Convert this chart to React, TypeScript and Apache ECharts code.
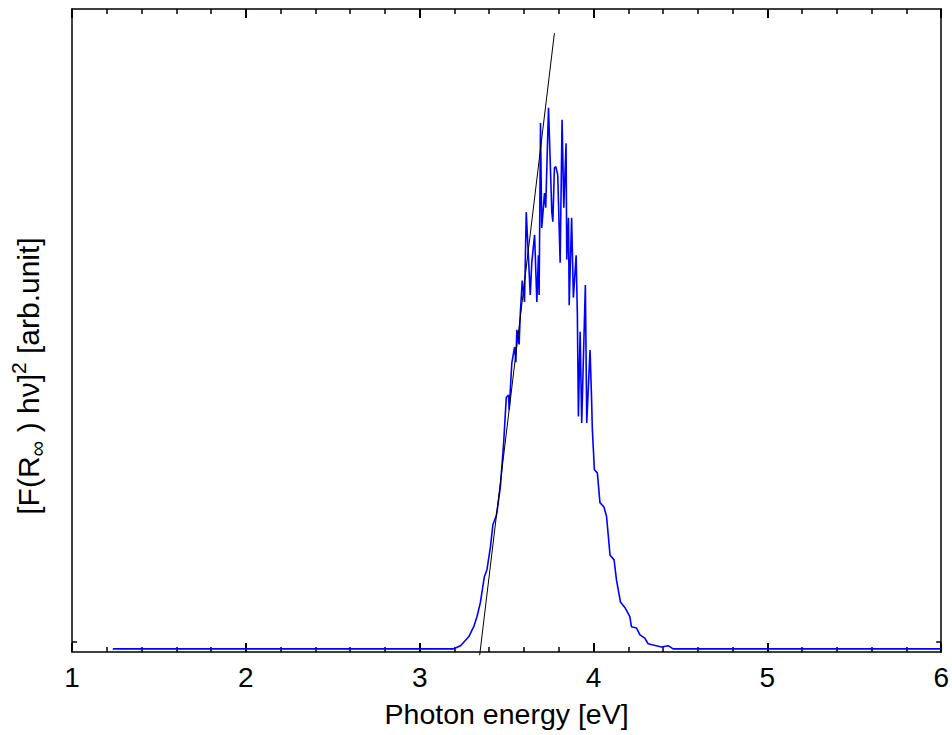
import React, { useEffect, useRef } from "react";
import * as echarts from "echarts";

// Photon energy [eV]
const energy = [
  1.235, 3.196, 3.235, 3.282, 3.311, 3.33, 3.349, 3.372, 3.387, 3.407, 3.421, 3.439, 3.444,
  3.464, 3.483, 3.498, 3.511, 3.515, 3.53, 3.546, 3.553, 3.559, 3.572, 3.579, 3.59, 3.603,
  3.613, 3.636, 3.645, 3.661, 3.674, 3.683, 3.687, 3.695, 3.702, 3.718, 3.725, 3.741, 3.751,
  3.76, 3.766, 3.775, 3.783, 3.794, 3.808, 3.819, 3.829, 3.842, 3.846, 3.856, 3.86, 3.874,
  3.884, 3.9, 3.907, 3.913, 3.923, 3.932, 3.953, 3.961, 3.98, 3.989, 3.993, 4.005, 4.022,
  4.037, 4.06, 4.075, 4.095, 4.118, 4.132, 4.155, 4.181, 4.209, 4.218, 4.247, 4.267, 4.295,
  4.314, 4.343, 4.391, 4.429, 4.458, 6.0,
];
// [F(R∞) hν]^2 [arb.unit]
const intensity = [
  -0.011, -0.011, -0.006, 0.008, 0.024, 0.04, 0.062, 0.103, 0.114, 0.15, 0.185, 0.198, 0.204,
  0.245, 0.314, 0.386, 0.39, 0.367, 0.441, 0.466, 0.442, 0.493, 0.47, 0.52, 0.571, 0.537,
  0.679, 0.548, 0.6, 0.643, 0.537, 0.611, 0.548, 0.82, 0.654, 0.709, 0.686, 0.844, 0.758,
  0.679, 0.664, 0.749, 0.751, 0.738, 0.599, 0.825, 0.686, 0.788, 0.604, 0.67, 0.532, 0.67,
  0.544, 0.611, 0.517, 0.356, 0.49, 0.346, 0.564, 0.346, 0.461, 0.382, 0.337, 0.272, 0.267,
  0.22, 0.213, 0.198, 0.137, 0.13, 0.098, 0.063, 0.054, 0.04, 0.024, 0.022, 0.011, 0.006,
  -0.003, -0.005, -0.008, -0.006, -0.011, -0.011,
];
// Linear (Tauc) fit line endpoints
const fitEnergy = [3.345, 3.775];
const fitIntensity = [-0.021, 0.962];

const xTicks = [1, 2, 3, 4, 5, 6];

export default function App() {
  const ref = useRef<HTMLDivElement>(null);
  useEffect(() => {
    if (!ref.current) return;
    const chart = echarts.init(ref.current, undefined, { renderer: "svg" });
    const font = "Arial, 'Liberation Sans', sans-serif";
    const blue = energy.map((e, i) => [e, intensity[i]]);
    const fit = fitEnergy.map((e, i) => [e, fitIntensity[i]]);
    const xCommon = {
      type: "value" as const,
      min: xTicks[0],
      max: xTicks[xTicks.length - 1],
      interval: 1,
      axisLine: { show: true, onZero: false, lineStyle: { color: "#000", width: 1.5 } },
      axisTick: { show: true, inside: true, length: 9, lineStyle: { color: "#000", width: 2 } },
      minorTick: { show: true, splitNumber: 5, length: 5, lineStyle: { color: "#000", width: 1.5 } },
      splitLine: { show: false },
    };
    const yCommon = {
      type: "value" as const,
      min: -0.016,
      max: 1.0,
      axisLine: { show: true, onZero: false, lineStyle: { color: "#000", width: 1.5 } },
      axisTick: {
        show: true,
        inside: true,
        length: 5,
        customValues: [0],
        lineStyle: { color: "#000", width: 1.5 },
      },
      axisLabel: { show: false },
      splitLine: { show: false },
    };
    chart.setOption({
      animation: false,
      backgroundColor: "#fff",
      grid: { left: 72, right: 7, top: 9, bottom: 83, containLabel: false },
      xAxis: [
        {
          ...xCommon,
          position: "bottom",
          axisLabel: { show: true, fontSize: 28, color: "#000", fontFamily: font, margin: 11 },
          name: "Photon energy [eV]",
          nameLocation: "middle",
          nameGap: 47,
          nameTextStyle: { fontSize: 28.5, color: "#000", fontFamily: font },
        },
        {
          ...xCommon,
          position: "top",
          axisLabel: { show: false },
        },
      ],
      yAxis: [
        { ...yCommon, position: "left" },
        { ...yCommon, position: "right" },
      ],
      graphic: [
        {
          type: "text",
          x: 28,
          y: 376,
          rotation: Math.PI / 2,
          style: {
            text: "[F(R{sub|∞} ) hν]{sup|2} [arb.unit]",
            fontSize: 30,
            fontFamily: font,
            fill: "#000",
            align: "center",
            verticalAlign: "middle",
            lineHeight: 40,
            rich: {
              sub: { fontSize: 22, fontFamily: font, verticalAlign: "bottom", lineHeight: 22, fill: "#000" },
              sup: { fontSize: 21, fontFamily: font, verticalAlign: "top", lineHeight: 21, fill: "#000" },
            },
          },
        },
      ],
      series: [
        {
          type: "line",
          data: blue,
          symbol: "none",
          lineStyle: { color: "#0000ff", width: 1.6 },
          xAxisIndex: 0,
          yAxisIndex: 0,
          z: 3,
        },
        {
          type: "line",
          data: fit,
          symbol: "none",
          clip: false,
          lineStyle: { color: "#000", width: 1 },
          xAxisIndex: 0,
          yAxisIndex: 0,
          z: 4,
        },
      ],
    });
    return () => chart.dispose();
  }, []);
  return (
    <div
      ref={ref}
      style={{ position: "fixed", left: 0, top: 0, width: 952, height: 735, background: "#fff" }}
    />
  );
}
